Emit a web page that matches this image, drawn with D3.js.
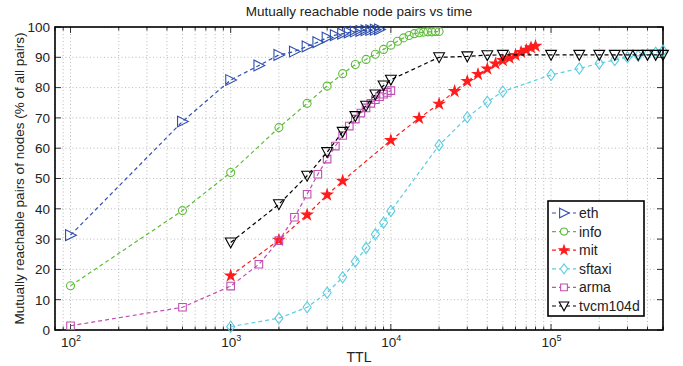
<!DOCTYPE html>
<html><head><meta charset="utf-8">
<script src="https://cdn.jsdelivr.net/npm/d3@7"></script>
<style>body{margin:0;background:#fff}svg{display:block;font-family:"Liberation Sans",Arial,sans-serif}</style>
</head><body>
<svg id="c" width="683" height="366"></svg>
<script>
const ethX=[100,500,1000,1500,2000,2500,3000,3500,4000,4500,5000,5500,6000,6500,7000,7500,8000,8500];
const ethY=[31.3,68.8,82.5,87.3,90.8,91.9,93.6,95,96.5,97.3,97.8,98.2,98.5,98.7,98.9,99.0,99.1,99.2];
const infoX=[100,500,1000,2000,3000,4000,5000,6000,7000,8000,9000,10000,11000,12000,13000,14000,15000,16000,17000,18000,19000,20000];
const infoY=[14.6,39.4,52,66.8,74.8,80.5,84.6,87.6,89.3,91,92.6,94,95.3,96.4,97.2,97.8,98.1,98.3,98.4,98.4,98.5,98.5];
const mitX=[1000,2000,3000,4000,5000,10000,15000,20000,25000,30000,35000,40000,45000,50000,55000,60000,65000,70000,75000,80000];
const mitY=[17.9,29.7,38,44.6,49.2,62.6,69.9,74.6,78.8,82.1,84.4,86.2,87.9,89,89.8,90.7,91.7,92.4,93.2,93.7];
const sftaxiX=[1000,2000,3000,4000,5000,6000,7000,8000,9000,10000,20000,30000,40000,50000,100000,150000,200000,250000,300000,350000,400000,450000,500000];
const sftaxiY=[1.1,3.9,7.5,12.3,17.4,22.6,27.1,31.6,35.4,39.3,61,70.2,75.3,78.7,84.2,86.3,88,89.1,90,90.5,91,91.5,92.2];
const armaX=[100,500,1000,1500,2000,2500,3000,3500,4000,4500,5000,5500,6000,6500,7000,7500,8000,8500,9000,9500,10000];
const armaY=[1.4,7.5,14.5,21.7,29.5,37.2,44.8,51.4,56.4,60.7,64.2,67.3,69.6,71.6,73.3,74.8,76,77,77.8,78.4,79];
const tvcmX=[1000,2000,3000,4000,5000,6000,7000,8000,9000,10000,20000,30000,40000,50000,100000,150000,200000,250000,300000,350000,400000,450000,500000];
const tvcmY=[28.9,41.5,50.9,58.7,65.4,70.6,74,77.7,80.7,82.6,90,90.3,90.7,90.8,90.8,90.8,90.8,90.8,90.8,90.8,90.8,90.8,90.8];
const seriesNames=["eth","info","mit","sftaxi","arma","tvcm104d"];
const seriesColors=["#2f4fb0","#5cbc38","#ff1c1c","#5ccde0","#c24eb2","#000000"];
const seriesShapes=["triR","circle","star","diamond","square","triD"];
const xTicks=[100,1000,10000,100000];
const yTicks=[0,10,20,30,40,50,60,70,80,90,100];
const titleText="Mutually reachable node pairs vs time";
const xLabel="TTL";
const yLabel="Mutually reachable pairs of nodes (% of all pairs)";

const seriesX=[ethX,infoX,mitX,sftaxiX,armaX,tvcmX];
const seriesY=[ethY,infoY,mitY,sftaxiY,armaY,tvcmY];

const L=55,R=663,T=27,B=330;
const svg=d3.select("#c");
const x=d3.scaleLog().domain([80,500000]).range([L,R]);
const y=d3.scaleLinear().domain([0,100]).range([B,T]);

const minor=[];
[10,100,1000,10000,100000].forEach(d=>{for(let k=1;k<10;k++){const v=d*k;if(v>=80&&v<=500000)minor.push(v);}});
minor.push(500000);
const g=svg.append("g");
g.selectAll(".gx").data(minor).enter().append("line")
 .attr("x1",d=>x(d)).attr("x2",d=>x(d)).attr("y1",T).attr("y2",B)
 .attr("stroke","#a8a8a8").attr("stroke-width",0.8).attr("stroke-dasharray","1,2.5");
g.selectAll(".gy").data(yTicks).enter().append("line")
 .attr("x1",L).attr("x2",R).attr("y1",d=>y(d)).attr("y2",d=>y(d))
 .attr("stroke","#a8a8a8").attr("stroke-width",0.8).attr("stroke-dasharray","1,2.5");
g.selectAll(".tx").data(minor).enter().append("path")
 .attr("d",d=>{const big=xTicks.includes(d);const s=big?6:3.5;return `M${x(d)},${B}v${-s}M${x(d)},${T}v${s}`;})
 .attr("stroke","#000").attr("stroke-width",0.8);
g.selectAll(".ty").data(yTicks).enter().append("path")
 .attr("d",d=>`M${L},${y(d)}h6M${R},${y(d)}h-6`)
 .attr("stroke","#000").attr("stroke-width",0.8);

const ya=d3.axisLeft(y).tickValues(yTicks).tickSize(0).tickPadding(5);
const yg=svg.append("g").attr("transform",`translate(${L},0)`).call(ya);
yg.select(".domain").remove();
yg.selectAll("text").attr("font-size",13.5).attr("fill","#222").attr("font-family","Liberation Sans, Arial, sans-serif");

const xa=d3.axisBottom(x).tickValues(xTicks).tickSize(0).tickFormat("");
const xg=svg.append("g").attr("transform",`translate(0,${B})`).call(xa);
xg.select(".domain").remove();
xg.selectAll(".tick").each(function(d){
  const t=d3.select(this).append("text").attr("y",17).attr("fill","#222").attr("font-size",13.5).attr("text-anchor","middle");
  t.append("tspan").text("10");
  t.append("tspan").attr("dy",-6).attr("font-size",9).text(String(Math.round(Math.log10(d))));
});

svg.append("rect").attr("x",L).attr("y",T).attr("width",R-L).attr("height",B-T)
 .attr("fill","none").attr("stroke","#000").attr("stroke-width",1.6);

function shapePath(shape,s){
  switch(shape){
    case "triR": return `M${-s*0.55},${-s*0.6}L${s*0.65},0L${-s*0.55},${s*0.6}Z`;
    case "triD": return `M${-s*0.6},${-s*0.5}L${s*0.6},${-s*0.5}L0,${s*0.6}Z`;
    case "circle": return d3.symbol(d3.symbolCircle,s*s*0.62)();
    case "diamond": return `M0,${-s*0.62}L${s*0.45},0L0,${s*0.62}L${-s*0.45},0Z`;
    case "square": return `M${-s*0.42},${-s*0.42}h${s*0.84}v${s*0.84}h${-s*0.84}Z`;
    case "star": return d3.symbol(d3.symbolStar,s*s*0.42)();
  }
}
const line=d3.line().x(d=>x(d[0])).y(d=>y(d[1]));
seriesNames.forEach((n,i)=>{
  const data=seriesX[i].map((v,j)=>[v,seriesY[i][j]]);
  const sg=svg.append("g");
  sg.append("path").datum(data).attr("d",line).attr("fill","none")
    .attr("stroke",seriesColors[i]).attr("stroke-width",1.2).attr("stroke-dasharray","4,3");
  sg.selectAll("path.m").data(data).enter().append("path").attr("class","m")
    .attr("transform",d=>`translate(${x(d[0])},${y(d[1])})`)
    .attr("d",shapePath(seriesShapes[i],9))
    .attr("fill",seriesShapes[i]==="star"?seriesColors[i]:"none")
    .attr("stroke",seriesColors[i]).attr("stroke-width",1.1);
});

const lx=548,ly=201,lw=96,lh=115;
svg.append("rect").attr("x",lx).attr("y",ly).attr("width",lw).attr("height",lh)
 .attr("fill","#fff").attr("stroke","#000").attr("stroke-width",1.6);
seriesNames.forEach((n,i)=>{
  const cy=ly+12+i*18.6;
  svg.append("line").attr("x1",lx+4).attr("x2",lx+28).attr("y1",cy).attr("y2",cy)
    .attr("stroke",seriesColors[i]).attr("stroke-width",1.2).attr("stroke-dasharray","4,3");
  svg.append("path").attr("transform",`translate(${lx+16},${cy})`).attr("d",shapePath(seriesShapes[i],8))
    .attr("fill",seriesShapes[i]==="star"?seriesColors[i]:"#fff").attr("stroke",seriesColors[i]).attr("stroke-width",1.1);
  svg.append("text").attr("x",lx+31).attr("y",cy+5).attr("font-size",14).attr("fill","#222").text(n);
});

svg.append("text").attr("x",(L+R)/2).attr("y",16).attr("text-anchor","middle").attr("font-size",13.5).attr("fill","#222").text(titleText);
svg.append("text").attr("x",(L+R)/2).attr("y",362).attr("text-anchor","middle").attr("font-size",14).attr("fill","#222").text(xLabel);
svg.append("text").attr("transform",`translate(24,${(T+B)/2}) rotate(-90)`).attr("text-anchor","middle").attr("font-size",13.5).attr("fill","#222").text(yLabel);
</script>
</body></html>
